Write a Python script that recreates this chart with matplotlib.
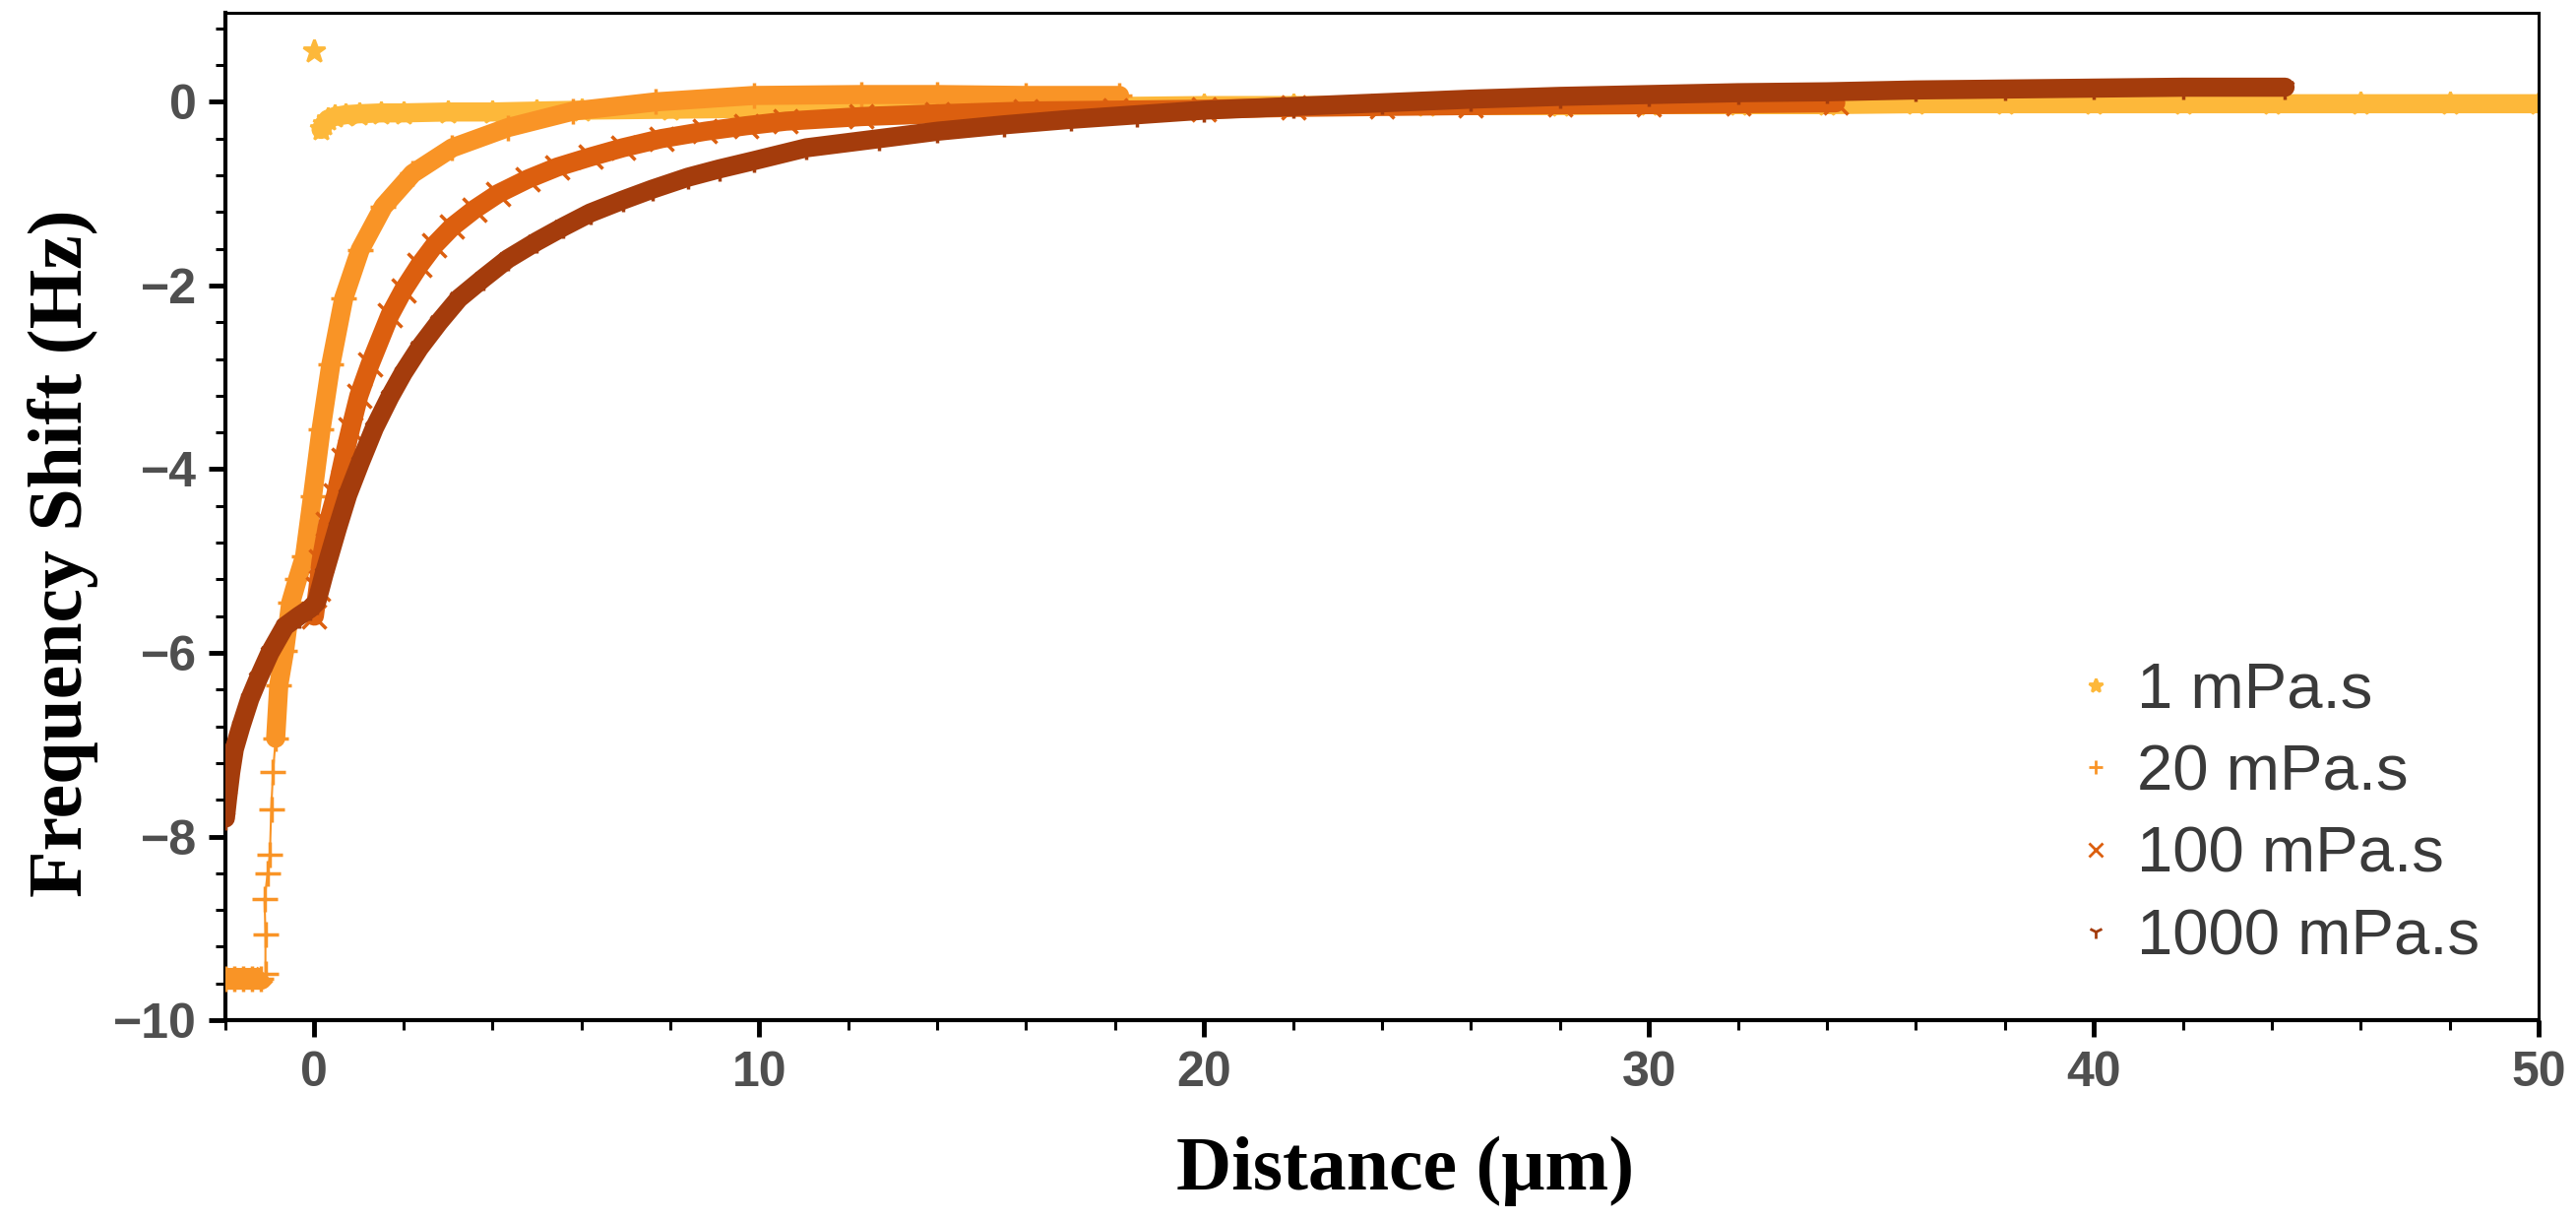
import numpy as np
import matplotlib
matplotlib.use('Agg')
import matplotlib.pyplot as plt
from matplotlib.lines import Line2D
from matplotlib.ticker import MultipleLocator

# ---------------- data ----------------
labels = ['1 mPa.s', '20 mPa.s', '100 mPa.s', '1000 mPa.s']

x_1 = [0.0, 0.15, 0.22, 0.3, 0.45, 0.7, 1.0, 1.5, 2.0, 3.0, 4.0, 5.0, 6.0, 8.0, 10.0,
       12.0, 15.0, 18.0, 20.0, 22.0, 25.0, 28.0, 30.0, 32.0, 34.0, 36.0, 38.0, 40.0,
       42.0, 44.0, 46.0, 48.0, 50.0]
y_1 = [0.55, -0.30, -0.24, -0.19, -0.16, -0.14, -0.13, -0.12, -0.12, -0.11, -0.11, -0.1,
       -0.09, -0.08, -0.07, -0.06, -0.05, -0.05, -0.04, -0.04, -0.04, -0.04, -0.03, -0.03,
       -0.03, -0.02, -0.02, -0.02, -0.02, -0.02, -0.02, -0.02, -0.02]

x_20 = [-2.0, -1.8, -1.6, -1.4, -1.2, -1.1, -1.1, -1.12, -1.05, -1.0, -0.97, -0.93,
        -0.87, -0.8, -0.67, -0.53, -0.38, -0.22, -0.04, 0.15, 0.37, 0.66, 1.03, 1.55,
        2.21, 3.1, 4.35, 5.82, 7.67, 9.88, 12.3, 14.0, 16.0, 18.1]
y_20 = [-9.55, -9.55, -9.55, -9.55, -9.55, -9.5, -9.07, -8.68, -8.4, -8.2, -7.7, -7.3,
        -6.93, -6.35, -5.98, -5.45, -5.2, -4.95, -4.29, -3.57, -2.86, -2.14, -1.61, -1.14,
        -0.78, -0.5, -0.28, -0.1, 0.0, 0.07, 0.08, 0.08, 0.07, 0.07]

x_100 = [0.0, 0.08, 0.15, 0.3, 0.48, 0.65, 0.81, 1.0, 1.25, 1.7, 2.0, 2.36, 2.7, 3.1,
         3.6, 4.13, 4.8, 5.46, 6.2, 6.93, 7.8, 8.78, 9.7, 10.6, 12.3, 14.0, 16.0, 18.0,
         20.0, 22.0, 24.0, 26.0, 28.0, 30.0, 32.0, 34.2]
y_100 = [-5.6, -5.3, -5.0, -4.6, -4.28, -3.9, -3.57, -3.2, -2.86, -2.32, -2.05, -1.78,
         -1.56, -1.36, -1.17, -1.0, -0.84, -0.71, -0.6, -0.5, -0.4, -0.32, -0.26, -0.21,
         -0.16, -0.13, -0.1, -0.09, -0.08, -0.06, -0.05, -0.04, -0.03, -0.03, -0.02, -0.01]

x_1000 = [-2.0, -1.95, -1.88, -1.8, -1.65, -1.45, -1.26, -1.0, -0.66, -0.35, -0.1, 0.05,
          0.22, 0.52, 0.75, 1.03, 1.35, 1.7, 2.0, 2.36, 2.8, 3.25, 3.8, 4.35, 5.0, 5.6,
          6.2, 6.93, 7.6, 8.4, 9.1, 9.88, 11.06, 12.7, 14.0, 15.5, 17.0, 18.5, 20.0, 22.0,
          24.0, 26.0, 28.0, 30.0, 32.0, 34.0, 36.0, 38.0, 40.0, 42.0, 44.3]
y_1000 = [-7.8, -7.58, -7.3, -7.05, -6.8, -6.5, -6.28, -6.0, -5.71, -5.6, -5.52, -5.45,
          -5.14, -4.64, -4.28, -3.93, -3.55, -3.21, -2.95, -2.68, -2.4, -2.14, -1.92,
          -1.71, -1.52, -1.36, -1.21, -1.07, -0.95, -0.82, -0.73, -0.64, -0.5, -0.4,
          -0.32, -0.25, -0.19, -0.14, -0.09, -0.05, -0.01, 0.03, 0.06, 0.08, 0.1, 0.11,
          0.13, 0.14, 0.15, 0.16, 0.16]

colors = ['#FDB83A', '#F99426', '#DC5F0F', '#A43C0C']
markers = ['*', '+', 'x', '1']

# ---------------- figure ----------------
fig = plt.figure(figsize=(26.17, 12.40), dpi=100)
ax = fig.add_axes([0.0875, 0.1645, 0.898, 0.825])

BAND = 14
MS = 17

series = [(x_1, y_1), (x_20, y_20), (x_100, y_100), (x_1000, y_1000)]
for i, ((xs, ys), c, m) in enumerate(zip(series, colors, markers)):
    xs = np.asarray(xs)
    ys = np.asarray(ys)
    z = 2 + i
    if i == 0:
        # isolated first point, then the continuous band
        ax.plot(xs[:1], ys[:1], ls='none', marker=m, ms=MS, color=c, mew=2, zorder=z)
        ax.plot(xs[1:], ys[1:], lw=BAND, color=c, solid_capstyle='round',
                solid_joinstyle='round', marker=m, ms=MS, mew=2, zorder=z)
    elif i == 1:
        # thin line with sparse markers through the jump, band elsewhere
        ax.plot(xs, ys, lw=1.5, color=c, marker=m, ms=MS + 2, mew=2.5, zorder=z)
        idx = np.arange(len(xs))
        plateau = idx <= 5
        rise = idx >= 12
        ax.plot(xs[plateau], ys[plateau], lw=BAND + 2, color=c, solid_capstyle='butt', zorder=z)
        ax.plot(xs[rise], ys[rise], lw=BAND, color=c, solid_capstyle='round',
                solid_joinstyle='round', zorder=z)
    else:
        ax.plot(xs, ys, lw=BAND, color=c, solid_capstyle='round',
                solid_joinstyle='round', marker=m, ms=MS, mew=2.5, zorder=z)

ax.set_xlim(-2, 50)
ax.set_ylim(-10, 0.97)
ax.xaxis.set_major_locator(MultipleLocator(10))
ax.xaxis.set_minor_locator(MultipleLocator(2))
ax.yaxis.set_major_locator(MultipleLocator(2))
ax.yaxis.set_minor_locator(MultipleLocator(0.4))

ax.tick_params(which='major', direction='out', length=12, width=3.5,
               labelsize=36, labelcolor='#4f4f4f', top=False, right=False)
ax.tick_params(which='minor', direction='out', length=7, width=2.2, top=False, right=False)
ax.tick_params(axis='x', which='major', pad=10)
ax.tick_params(axis='y', which='major', pad=9)
for lab in ax.get_xticklabels() + ax.get_yticklabels():
    lab.set_fontfamily('Liberation Sans')
    lab.set_fontweight('bold')

for side in ['left', 'bottom']:
    ax.spines[side].set_linewidth(3)
for side in ['top', 'right']:
    ax.spines[side].set_linewidth(2.2)

ax.set_xlabel('Distance (μm)', fontfamily='Liberation Serif', fontweight='bold',
              fontsize=56, color='black')
ax.set_ylabel('Frequency Shift (Hz)', fontfamily='Liberation Serif', fontweight='bold',
              fontsize=56, color='black')
ax.xaxis.set_label_coords(0.51, -0.115)
ax.yaxis.set_label_coords(-0.055, 0.464)

handles = [Line2D([], [], ls='none', marker=m, color=c, ms=10, mew=2)
           for m, c in zip(markers, colors)]
leg = ax.legend(handles, labels, loc='upper left', bbox_to_anchor=(0.80, 0.356),
                frameon=False, prop={'family': 'Liberation Sans', 'size': 47},
                labelcolor='#3a3a3a', handlelength=0.6, handletextpad=0.35,
                labelspacing=0.36, borderpad=0, borderaxespad=0)

fig.savefig('out.png', dpi=100, facecolor='white')
